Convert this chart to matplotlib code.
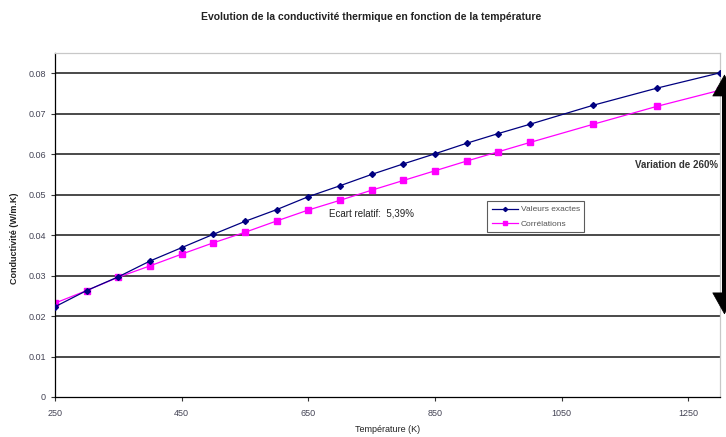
import matplotlib
matplotlib.use("Agg")
import matplotlib.pyplot as plt

temperature = [250, 300, 350, 400, 450, 500, 550, 600, 650, 700, 750, 800,
               850, 900, 950, 1000, 1100, 1200, 1300]
valeurs_exactes = [0.0223, 0.0263, 0.0297, 0.0336, 0.0369, 0.0402, 0.0434,
                   0.0463, 0.0495, 0.0522, 0.0550, 0.0576, 0.0601, 0.0627,
                   0.0651, 0.0674, 0.0721, 0.0763, 0.0801]
correlations = [0.0232, 0.0263, 0.0296, 0.0324, 0.0353, 0.0381, 0.0407,
                0.0435, 0.0462, 0.0486, 0.0511, 0.0535, 0.0559, 0.0583,
                0.0606, 0.0629, 0.0674, 0.0718, 0.0758]
x_ticks = [250, 450, 650, 850, 1050, 1250]
y_ticks = [0, 0.01, 0.02, 0.03, 0.04, 0.05, 0.06, 0.07, 0.08]
y_tick_labels = ["0", "0.01", "0.02", "0.03", "0.04", "0.05", "0.06", "0.07", "0.08"]

plt.rcParams['font.family'] = ['Liberation Sans', 'DejaVu Sans']

fig = plt.figure(figsize=(7.26, 4.37), dpi=100)
ax = fig.add_axes([55/726, 40/437, 665/726, 344/437])

for y in y_ticks[1:]:
    ax.axhline(y, color='#3a3a3a', lw=1.3, zorder=1)

ax.plot(temperature, valeurs_exactes, color='#000080', lw=0.9, marker='D',
        markersize=3, zorder=3, label='Valeurs exactes')
ax.plot(temperature, correlations, color='#FF00FF', lw=0.9, marker='s',
        markersize=5, zorder=2, label='Corrélations')

ax.set_xlim(250, 1300)
ax.set_ylim(0, 0.085)
ax.set_xticks(x_ticks)
ax.set_xticklabels([str(t) for t in x_ticks])
ax.set_yticks(y_ticks)
ax.set_yticklabels(y_tick_labels)
ax.tick_params(axis='both', labelsize=6.5, colors='#333333', length=3, width=0.8,
               labelcolor='#444455')
ax.tick_params(axis='x', pad=6)

for s in ['left', 'bottom']:
    ax.spines[s].set_color('black')
    ax.spines[s].set_linewidth(0.9)
for s in ['top', 'right']:
    ax.spines[s].set_color('#c8c8c8')
    ax.spines[s].set_linewidth(0.9)

ax.set_xlabel('Température (K)', fontsize=6.5, color='#222222', labelpad=5)
ax.set_ylabel('Conductivité (W/m.K)', fontsize=6.5, fontweight='bold',
              color='#222222')
ax.yaxis.set_label_coords(-0.054, 0.462)
fig.text(371/726, 1 - 17/437, 'Evolution de la conductivité thermique en fonction de la température',
         ha='center', va='center', fontsize=7.5, fontweight='bold', color='#222222')

# double arrow: thick shaft + sharp heads
ax.annotate('', xy=(1307, 0.0765), xytext=(1307, 0.0240),
            arrowprops=dict(arrowstyle='-', color='black', lw=3.5),
            annotation_clip=False)
ax.annotate('', xy=(1307, 0.0797), xytext=(1307, 0.0204),
            arrowprops=dict(arrowstyle='<|-|>,head_length=0.75,head_width=0.42',
                            color='black', lw=0.5, mutation_scale=20,
                            shrinkA=0, shrinkB=0),
            annotation_clip=False)
ax.text(1297, 0.0573, 'Variation de 260%', ha='right', va='center',
        fontsize=7, fontweight='bold', color='#333333')
ax.text(683, 0.0454, 'Ecart relatif:  5,39%', ha='left', va='center',
        fontsize=7, color='#222222')

leg = ax.legend(loc='upper left', bbox_to_anchor=(487/726, 1 - 201/437),
                bbox_transform=fig.transFigure, fontsize=6, frameon=True,
                fancybox=False, edgecolor='#333333', handlelength=3.2,
                borderpad=0.55, labelspacing=0.75, markerscale=0.7,
                handletextpad=0.3, borderaxespad=0)
leg.get_frame().set_linewidth(0.8)
for t in leg.get_texts():
    t.set_color('#555555')

fig.savefig('out.png', dpi=100)
